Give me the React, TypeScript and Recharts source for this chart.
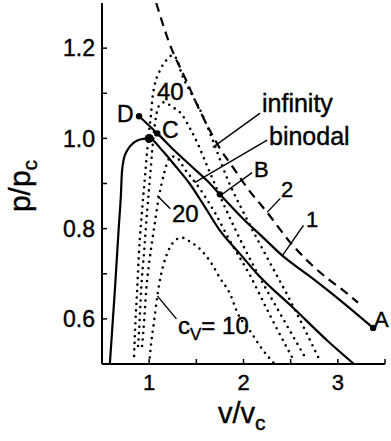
import { ComposedChart, Line, XAxis, YAxis, ReferenceLine } from "recharts";

// axis ticks
const X_TICKS = [1, 1.5, 2, 2.5, 3, 3.5];
const Y_TICKS = [0.6, 0.7, 0.8, 0.9, 1.0, 1.1, 1.2];

// dotted curves, c_v = 10, 20, 40, infinity
const CV10_V = [1.0, 1.02, 1.053, 1.086, 1.128, 1.182, 1.246, 1.342, 1.449, 1.556, 1.663, 1.749, 1.856, 1.941, 2.07, 2.198, 2.33];
const CV10_P = [0.5, 0.544, 0.596, 0.651, 0.7, 0.74, 0.767, 0.78, 0.769, 0.751, 0.722, 0.691, 0.656, 0.611, 0.573, 0.533, 0.5];

const CV20_V = [0.925, 0.947, 0.968, 1.0, 1.032, 1.064, 1.096, 1.128, 1.16, 1.193, 1.235, 1.299, 1.374, 1.535, 1.695, 1.856, 2.07, 2.283, 2.519];
const CV20_P = [0.54, 0.596, 0.662, 0.724, 0.773, 0.818, 0.862, 0.896, 0.924, 0.947, 0.96, 0.956, 0.933, 0.889, 0.836, 0.773, 0.696, 0.607, 0.513];

const CV40_V = [0.882, 0.893, 0.914, 0.947, 0.979, 1.011, 1.032, 1.053, 1.075, 1.107, 1.16, 1.235, 1.353, 1.428, 1.513, 1.62, 1.749, 1.909, 2.123, 2.39, 2.658];
const CV40_P = [0.54, 0.573, 0.662, 0.751, 0.84, 0.918, 0.973, 1.018, 1.051, 1.073, 1.08, 1.071, 1.051, 1.024, 0.989, 0.936, 0.873, 0.8, 0.711, 0.611, 0.513];

const INF_V = [0.84, 0.85, 0.872, 0.893, 0.925, 0.957, 0.979, 1.0, 1.021, 1.032, 1.053, 1.107, 1.182, 1.246, 1.299, 1.342, 1.428, 1.556, 1.674, 1.824, 2.016, 2.23, 2.497, 2.797];
const INF_P = [0.518, 0.573, 0.662, 0.751, 0.84, 0.918, 0.973, 1.018, 1.056, 1.084, 1.113, 1.147, 1.173, 1.184, 1.173, 1.144, 1.107, 1.056, 0.996, 0.913, 0.829, 0.744, 0.64, 0.513];

// solid curves
const BINODAL_V = [0.583, 0.636, 0.679, 0.7, 0.711, 0.733, 0.775, 0.84, 0.914, 1.0, 1.139, 1.289, 1.428, 1.567, 1.749, 1.963, 2.144, 2.529, 2.893, 3.171];
const BINODAL_P = [0.5, 0.662, 0.807, 0.873, 0.924, 0.956, 0.976, 0.991, 0.998, 1.0, 0.973, 0.936, 0.9, 0.856, 0.796, 0.744, 0.7, 0.624, 0.551, 0.5];

const CURVE1_V = [0.893, 1.086, 1.267, 1.46, 1.61, 1.749, 1.995, 2.209, 2.412, 2.711, 3.032, 3.374];
const CURVE1_P = [1.049, 1.011, 0.973, 0.936, 0.907, 0.876, 0.822, 0.78, 0.74, 0.693, 0.64, 0.58];

// dashed curve 2
const CURVE2_V = [1.075, 1.214, 1.396, 1.545, 1.642, 1.749, 1.888, 2.037, 2.262, 2.497, 2.711, 2.893, 3.064, 3.214];
const CURVE2_P = [1.3, 1.211, 1.127, 1.058, 1.018, 0.978, 0.936, 0.891, 0.833, 0.769, 0.722, 0.689, 0.662, 0.636];

// marked points D, C, B, A and the critical point
const POINT_V = [0.893, 1.086, 1.749, 3.374];
const POINT_P = [1.049, 1.011, 0.876, 0.58];
const CRIT_V = [1.0];
const CRIT_P = [1.0];

// leader lines [v1, p1, v2, p2]
const LEADERS = [
  [2.176, 1.056, 1.674, 0.98], // infinity
  [2.251, 0.996, 1.481, 0.902], // binodal
  [2.091, 0.924, 1.76, 0.874], // B
  [2.39, 0.867, 2.251, 0.836], // 2
  [2.636, 0.807, 2.412, 0.74], // 1
  [1.086, 0.873, 1.225, 0.844], // 20
  [1.086, 0.651, 1.289, 0.6], // c_v = 10
];

const pts = (v: number[], p: number[]) => v.map((x, i) => ({ v: x, p: p[i] }));

const FONT = "'Liberation Sans', Arial, sans-serif";

const dotted = { stroke: "#000", strokeWidth: 2.6, strokeDasharray: "0 6.5", strokeLinecap: "round" as const };

export default function App() {
  const common = { type: "monotone" as const, dataKey: "p", dot: false, activeDot: false, isAnimationActive: false };
  return (
    <div style={{ position: "absolute", left: 0, top: 0, width: 391, height: 441, background: "#fff", fontFamily: FONT }}>
      <ComposedChart width={391} height={441} margin={{ top: 3, right: 6, bottom: 47, left: 42 }}>
        <XAxis
          type="number"
          dataKey="v"
          domain={[0.5, 3.5]}
          ticks={X_TICKS}
          interval={0}
          allowDataOverflow
          tickFormatter={(x: number) => (Number.isInteger(x) ? String(x) : "")}
          tick={{ fill: "#000", stroke: "#000", strokeWidth: 0.4, fontSize: 22, fontFamily: FONT }}
          tickSize={-5}
          tickMargin={15}
          axisLine={{ stroke: "#000", strokeWidth: 2 }}
          tickLine={{ stroke: "#000", strokeWidth: 1.5 }}
        />
        <YAxis
          type="number"
          domain={[0.5, 1.3]}
          ticks={Y_TICKS}
          interval={0}
          width={60}
          allowDataOverflow
          tickFormatter={(y: number) => (Math.round(y * 10) % 2 === 0 ? y.toFixed(1) : "")}
          tick={{ fill: "#000", stroke: "#000", strokeWidth: 0.4, fontSize: 23, fontFamily: FONT }}
          tickSize={-5}
          tickMargin={12}
          axisLine={{ stroke: "#000", strokeWidth: 2 }}
          tickLine={{ stroke: "#000", strokeWidth: 1.5 }}
        />
        {LEADERS.map((l, i) => (
          <ReferenceLine
            key={i}
            segment={[{ x: l[0], y: l[1] }, { x: l[2], y: l[3] }]}
            stroke="#000"
            strokeWidth={1.4}
            ifOverflow="visible"
          />
        ))}
        <Line {...common} data={pts(CV10_V, CV10_P)} {...dotted} />
        <Line {...common} data={pts(CV20_V, CV20_P)} {...dotted} />
        <Line {...common} data={pts(CV40_V, CV40_P)} {...dotted} />
        <Line {...common} data={pts(INF_V, INF_P)} {...dotted} />
        <Line {...common} data={pts(BINODAL_V, BINODAL_P)} stroke="#000" strokeWidth={2.2} />
        <Line {...common} data={pts(CURVE1_V, CURVE1_P)} stroke="#000" strokeWidth={2.2} />
        <Line {...common} data={pts(CURVE2_V, CURVE2_P)} stroke="#000" strokeWidth={2.2} strokeDasharray="9 6" />
        <Line
          {...common}
          data={pts(POINT_V, POINT_P)}
          stroke="none"
          dot={{ r: 3.2, fill: "#000", stroke: "none" }}
        />
        <Line
          {...common}
          data={pts(CRIT_V, CRIT_P)}
          stroke="none"
          dot={{ r: 4.5, fill: "#000", stroke: "none" }}
        />
      </ComposedChart>
      <svg
        width={391}
        height={441}
        style={{ position: "absolute", left: 0, top: 0, pointerEvents: "none" }}
        fontFamily={FONT}
        fill="#000"
        stroke="#000"
        strokeWidth={0.4}
      >
        <text x={30} y={186} fontSize={30} textAnchor="middle" transform="rotate(-90 30 186)">
          p/p<tspan fontSize={21} dy={7}>c</tspan>
        </text>
        <text x={218} y={423} fontSize={29}>
          v/v<tspan fontSize={21} dy={7}>c</tspan>
        </text>
        <text x={157} y={100} fontSize={24}>40</text>
        <text x={117} y={122} fontSize={23}>D</text>
        <text x={162} y={138} fontSize={23}>C</text>
        <text x={262} y={112} fontSize={25}>infinity</text>
        <text x={269} y={145} fontSize={25}>binodal</text>
        <text x={254} y={177} fontSize={22}>B</text>
        <text x={281} y={197} fontSize={22}>2</text>
        <text x={306} y={227} fontSize={22}>1</text>
        <text x={172} y={222} fontSize={24}>20</text>
        <text x={178} y={334} fontSize={24}>
          c<tspan fontSize={17} dy={6}>V</tspan>
          <tspan dy={-6}>= 10</tspan>
        </text>
        <text x={374} y={327} fontSize={22}>A</text>
      </svg>
    </div>
  );
}
